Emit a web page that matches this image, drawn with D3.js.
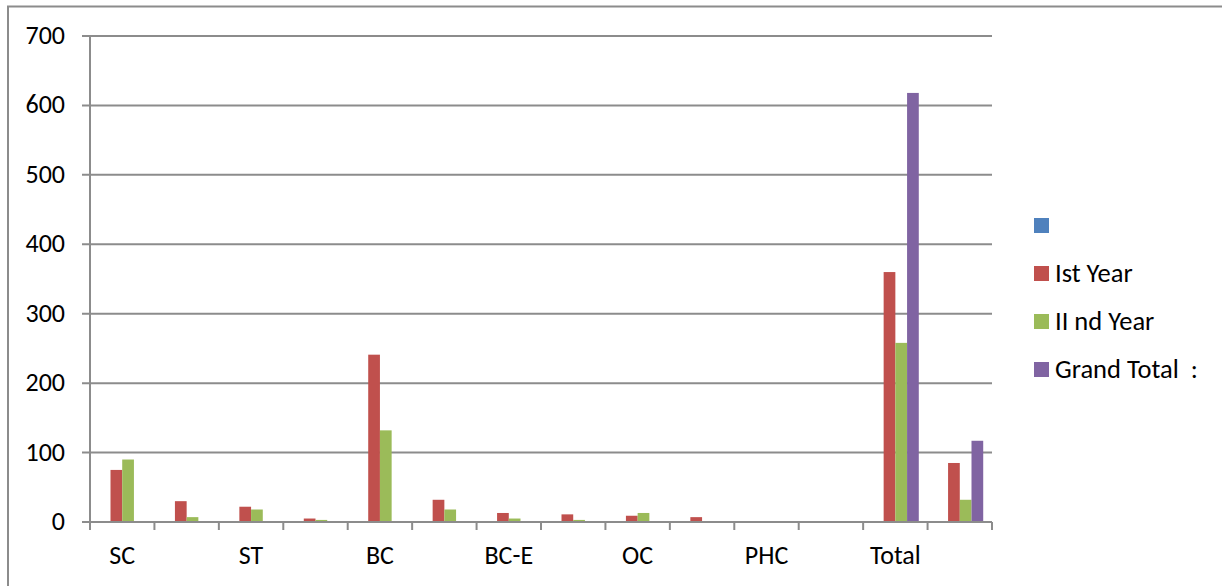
<!DOCTYPE html>
<html><head><meta charset="utf-8">
<script src="https://cdn.jsdelivr.net/npm/d3@7"></script>
<style>body{margin:0;background:#fff}svg{display:block}text{font-family:Carlito,Lato,"Open Sans",sans-serif;fill:#000}</style>
</head><body><svg id="c" width="1222" height="586"></svg>
<script>
const categories = ["SC","c1","ST","c3","BC","c5","BC-E","c7","OC","c9","PHC","c11","Total","c13"];
const tickLabels = {"SC":"SC","ST":"ST","BC":"BC","BC-E":"BC-E","OC":"OC","PHC":"PHC","Total":"Total"};
const seriesNames = ["", "Ist Year", "II nd Year", "Grand Total  :"];
const seriesColors = ["#4f81bd","#c0504d","#9bbb59","#8064a2"];
const blankSeries = [0,0,0,0,0,0,0,0,0,0,0,0,0,0];
const firstYear  = [75,30,22,5,241,32,13,11,9,7,0,0,360,85];
const secondYear = [90,7,18,3,132,18,5,3,13,0,0,0,258,32];
const grandTotal = [0,0,0,0,0,0,0,0,0,0,0,0,618,117];
const yTicks = [0,100,200,300,400,500,600,700];

const series = [blankSeries, firstYear, secondYear, grandTotal];
const svg = d3.select("#c");
const L=90, R=992, T=36, B=522;
const grid="#8c8c8c";

svg.append("rect").attr("x",8).attr("y",6.5).attr("width",1230).attr("height",600)
  .attr("fill","none").attr("stroke","#8c8c8c").attr("stroke-width",2);

const x = d3.scaleBand().domain(categories).range([L,R]).paddingInner(0).paddingOuter(0);
const y = d3.scaleLinear().domain([0,700]).range([B,T]);
const bw = x.bandwidth()/5.5;
const off = bw*0.75;

// gridlines
svg.append("g").selectAll("line").data(yTicks).join("line")
  .attr("x1",82).attr("x2",R).attr("y1",d=>y(d)).attr("y2",d=>y(d))
  .attr("stroke",grid).attr("stroke-width",2);
svg.selectAll(".yl").data(yTicks).join("text")
  .attr("x",65).attr("y",d=>y(d)+8).attr("text-anchor","end")
  .style("font-size","26px").text(d=>d);

// bars
series.forEach((vals,si)=>{
  svg.append("g").selectAll("rect").data(vals.map((v,i)=>({v,c:categories[i]}))).join("rect")
    .attr("x",d=>x(d.c)+off+si*bw).attr("width",bw)
    .attr("y",d=>y(d.v)).attr("height",d=>B-y(d.v))
    .attr("fill",seriesColors[si]);
});

// y axis line
svg.append("line").attr("x1",L).attr("x2",L).attr("y1",T).attr("y2",B+8)
  .attr("stroke",grid).attr("stroke-width",2);
// x axis
svg.append("line").attr("x1",L).attr("x2",R).attr("y1",B).attr("y2",B)
  .attr("stroke",grid).attr("stroke-width",2);
const bounds = categories.map(c=>x(c)).concat([R]);
svg.append("g").selectAll("line").data(bounds).join("line")
  .attr("x1",d=>d).attr("x2",d=>d).attr("y1",B).attr("y2",B+8)
  .attr("stroke",grid).attr("stroke-width",2);
svg.selectAll(".xl").data(categories.filter(c=>tickLabels[c])).join("text")
  .attr("x",d=>x(d)+x.bandwidth()/2).attr("y",564).attr("text-anchor","middle")
  .style("font-size","26px").text(d=>tickLabels[d]);

// legend
const lg = svg.append("g");
seriesNames.forEach((n,i)=>{
  const yy = 218 + i*48;
  lg.append("rect").attr("x",1034).attr("y",yy).attr("width",15).attr("height",15).attr("fill",seriesColors[i]);
  lg.append("text").attr("x",1055).attr("y",yy+16).style("font-size","26.5px").attr("xml:space","preserve").style("white-space","pre").text(n);
});
</script></body></html>
